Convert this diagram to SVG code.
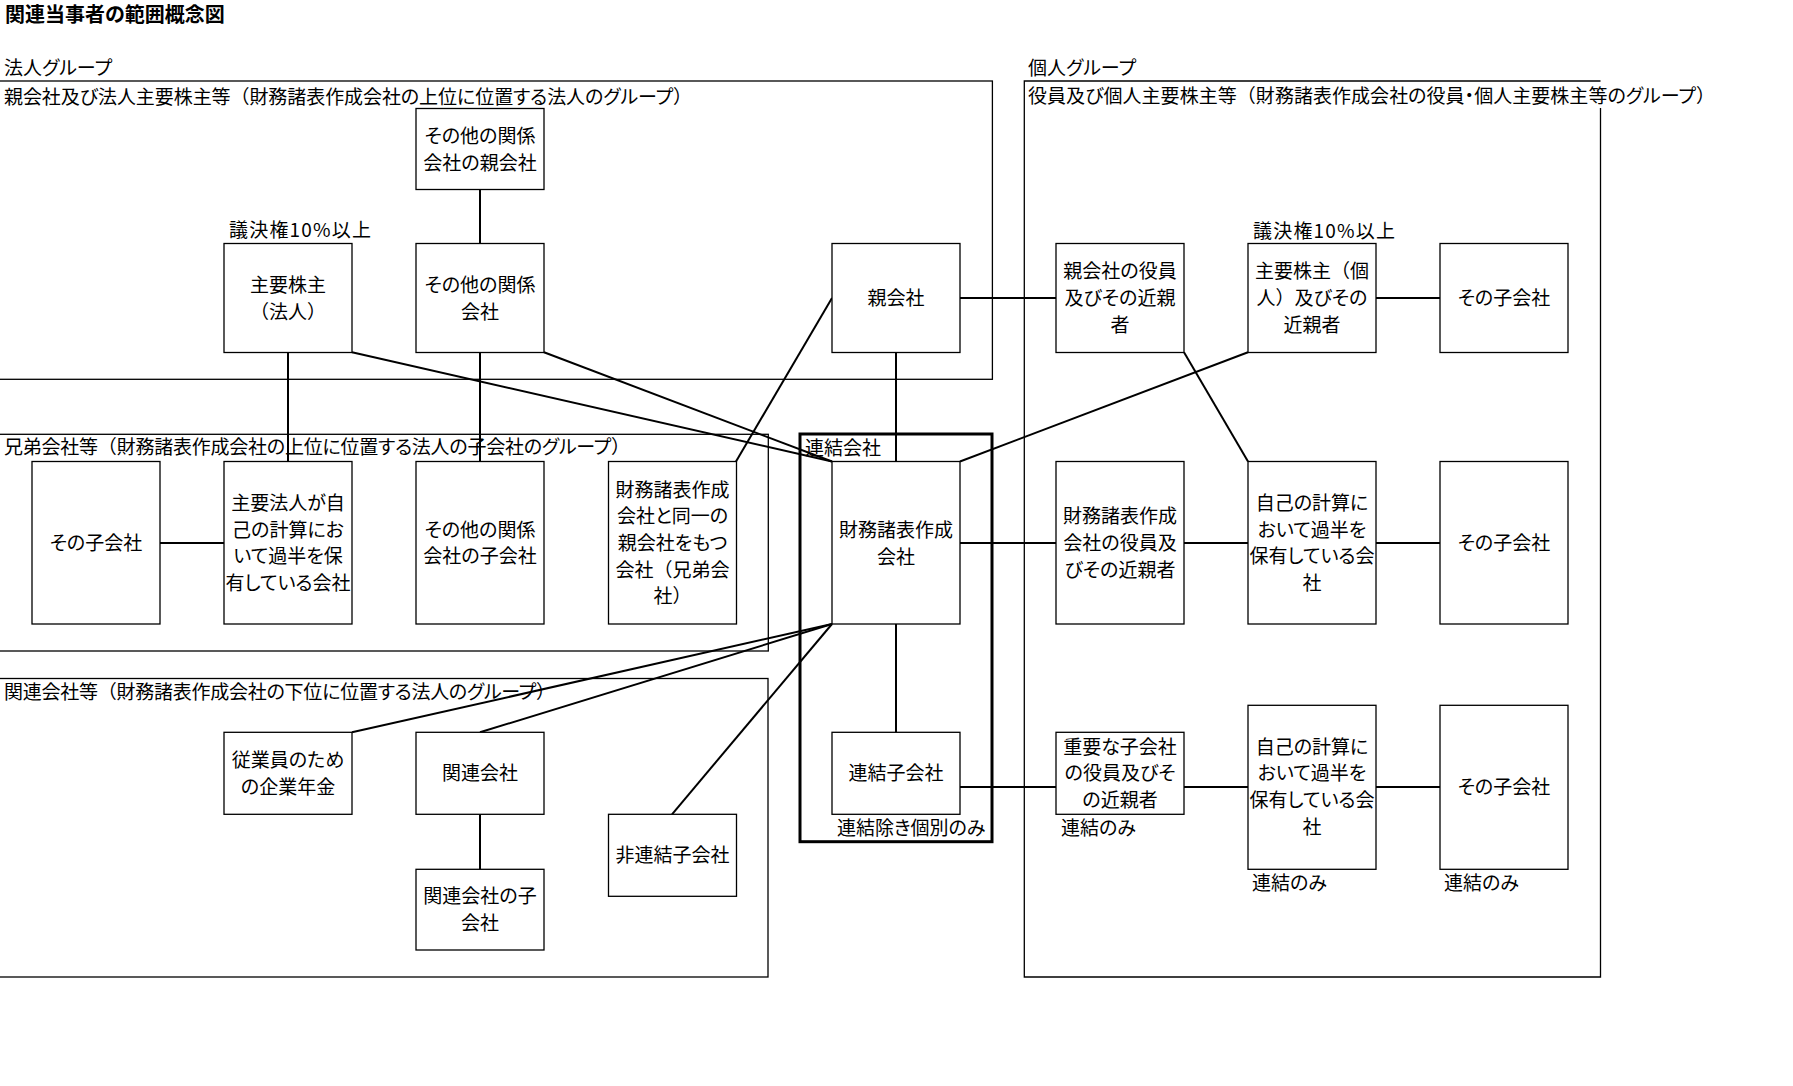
<svg xmlns="http://www.w3.org/2000/svg" width="1793" height="1086" viewBox="0 0 1793 1086">
<style>
text{font-family:"Noto Sans CJK JP","Noto Sans",sans-serif;font-size:19px;fill:#000;font-feature-settings:"palt"}
.fw{font-feature-settings:normal}
.title{font-weight:bold;font-size:20px}
.c{text-anchor:middle}
.box{fill:#fff;stroke:#000;stroke-width:1.3}
.grp{fill:none;stroke:#000;stroke-width:1.3}
.thick{fill:none;stroke:#000;stroke-width:3}
.conn line{stroke:#000;stroke-width:2}
</style>
<rect width="1793" height="1086" fill="#fff"/>
<text class="title" x="5" y="22">関連当事者の範囲概念図</text>
<g id="groups">
<text x="4" y="75">法人グループ</text>
<rect class="grp" x="-2" y="81" width="994.4" height="298.3"/>
<text x="4" y="103.5" textLength="688" lengthAdjust="spacing">親会社及び法人主要株主等<tspan class="fw">（</tspan>財務諸表作成会社の上位に位置する法人のグループ<tspan class="fw">）</tspan></text>
<rect class="grp" x="-2" y="434.3" width="770.3" height="216.7"/>
<text x="4" y="454" textLength="626" lengthAdjust="spacing">兄弟会社等<tspan class="fw">（</tspan>財務諸表作成会社の上位に位置する法人の子会社のグループ<tspan class="fw">）</tspan></text>
<rect class="grp" x="-2" y="678.5" width="770" height="298.5"/>
<text x="4" y="699" textLength="551" lengthAdjust="spacing">関連会社等<tspan class="fw">（</tspan>財務諸表作成会社の下位に位置する法人のグループ<tspan class="fw">）</tspan></text>
<text x="1028" y="75">個人グループ</text>
<path class="grp" d="M1600.5,81 H1024.3 V977 H1600.5 V108"/>
<text x="1028" y="103" textLength="687" lengthAdjust="spacing">役員及び個人主要株主等<tspan class="fw">（</tspan>財務諸表作成会社の役員・個人主要株主等のグループ<tspan class="fw">）</tspan></text>
<rect class="thick" x="800" y="434" width="192" height="407.7"/>
<text x="805" y="455">連結会社</text>
<text x="837" y="835">連結除き個別のみ</text>
<text x="229" y="237" textLength="142" lengthAdjust="spacing">議決権10%以上</text>
<text x="1253" y="238" textLength="142" lengthAdjust="spacing">議決権10%以上</text>
<text x="1061" y="835">連結のみ</text>
<text x="1252" y="890">連結のみ</text>
<text x="1444" y="890">連結のみ</text>
</g>
<g id="connectors" class="conn">
<line x1="480" y1="189.3" x2="480" y2="243.5"/>
<line x1="288" y1="352.3" x2="288" y2="461.5"/>
<line x1="480" y1="352.3" x2="480" y2="461.5"/>
<line x1="352" y1="352.3" x2="832" y2="461.5"/>
<line x1="544" y1="352.3" x2="832" y2="461.5"/>
<line x1="832" y1="298" x2="736" y2="461.5"/>
<line x1="896" y1="352.3" x2="896" y2="461.5"/>
<line x1="960" y1="298" x2="1056" y2="298"/>
<line x1="1248" y1="352.3" x2="960" y2="461.5"/>
<line x1="1184" y1="352.3" x2="1248" y2="461.5"/>
<line x1="1376" y1="298" x2="1440" y2="298"/>
<line x1="160" y1="543" x2="224" y2="543"/>
<line x1="960" y1="543" x2="1056" y2="543"/>
<line x1="1184" y1="543" x2="1248" y2="543"/>
<line x1="1376" y1="543" x2="1440" y2="543"/>
<line x1="896" y1="624" x2="896" y2="732.3"/>
<line x1="832" y1="624" x2="352" y2="732.3"/>
<line x1="832" y1="624" x2="480" y2="732.3"/>
<line x1="832" y1="624" x2="672" y2="814.3"/>
<line x1="960" y1="787" x2="1056" y2="787"/>
<line x1="1184" y1="787" x2="1248" y2="787"/>
<line x1="1376" y1="787" x2="1440" y2="787"/>
<line x1="480" y1="814.3" x2="480" y2="869.3"/>
</g>
<g id="n-oya-kankei-oya"><rect class="box" x="416" y="108.5" width="128" height="81"/><text class="c" x="480" y="143">その他の関係</text><text class="c" x="480" y="169.6">会社の親会社</text></g>
<g id="n-shuyo-hojin"><rect class="box" x="224" y="243.5" width="128" height="109"/><text class="c" x="288" y="292">主要株主</text><text class="c" x="288" y="318.7"><tspan class="fw">（</tspan>法人<tspan class="fw">）</tspan></text></g>
<g id="n-sonota-kankei"><rect class="box" x="416" y="243.5" width="128" height="109"/><text class="c" x="480" y="292">その他の関係</text><text class="c" x="480" y="318.7">会社</text></g>
<g id="n-oyagaisha"><rect class="box" x="832" y="243.5" width="128" height="109"/><text class="c" x="896" y="305">親会社</text></g>
<g id="n-oya-yakuin"><rect class="box" x="1056" y="243.5" width="128" height="109"/><text class="c" x="1120" y="278.3">親会社の役員</text><text class="c" x="1120" y="305">及びその近親</text><text class="c" x="1120" y="331.7">者</text></g>
<g id="n-shuyo-kojin"><rect class="box" x="1248" y="243.5" width="128" height="109"/><text class="c" x="1312" y="278.3">主要株主<tspan class="fw">（</tspan>個</text><text class="c" x="1312" y="305">人<tspan class="fw">）</tspan>及びその</text><text class="c" x="1312" y="331.7">近親者</text></g>
<g id="n-kojin-ko1"><rect class="box" x="1440" y="243.5" width="128" height="109"/><text class="c" x="1504" y="305">その子会社</text></g>
<g id="n-kyodai-ko"><rect class="box" x="32" y="461.5" width="128" height="162.5"/><text class="c" x="96" y="550">その子会社</text></g>
<g id="n-shuyo-hojin-ko"><rect class="box" x="224" y="461.5" width="128" height="162.5"/><text class="c" x="288" y="510">主要法人が自</text><text class="c" x="288" y="536.7">己の計算にお</text><text class="c" x="288" y="563.3">いて過半を保</text><text class="c" x="288" y="590">有している会社</text></g>
<g id="n-sonota-kankei-ko"><rect class="box" x="416" y="461.5" width="128" height="162.5"/><text class="c" x="480" y="536.7">その他の関係</text><text class="c" x="480" y="563.3">会社の子会社</text></g>
<g id="n-kyodai"><rect class="box" x="608.5" y="461.5" width="128" height="162.5"/><text class="c" x="672.5" y="496.7">財務諸表作成</text><text class="c" x="672.5" y="523.3">会社と同一の</text><text class="c" x="672.5" y="550">親会社をもつ</text><text class="c" x="672.5" y="576.7">会社<tspan class="fw">（</tspan>兄弟会</text><text class="c" x="672.5" y="603.3">社<tspan class="fw">）</tspan></text></g>
<g id="n-zaimu"><rect class="box" x="832" y="461.5" width="128" height="162.5"/><text class="c" x="896" y="537">財務諸表作成</text><text class="c" x="896" y="563.7">会社</text></g>
<g id="n-zaimu-yakuin"><rect class="box" x="1056" y="461.5" width="128" height="162.5"/><text class="c" x="1120" y="523.3">財務諸表作成</text><text class="c" x="1120" y="550">会社の役員及</text><text class="c" x="1120" y="576.7">びその近親者</text></g>
<g id="n-jiko1"><rect class="box" x="1248" y="461.5" width="128" height="162.5"/><text class="c" x="1312" y="510">自己の計算に</text><text class="c" x="1312" y="536.7">おいて過半を</text><text class="c" x="1312" y="563.3">保有している会</text><text class="c" x="1312" y="590">社</text></g>
<g id="n-kojin-ko2"><rect class="box" x="1440" y="461.5" width="128" height="162.5"/><text class="c" x="1504" y="550">その子会社</text></g>
<g id="n-nenkin"><rect class="box" x="224" y="732.3" width="128" height="82"/><text class="c" x="288" y="767">従業員のため</text><text class="c" x="288" y="793.7">の企業年金</text></g>
<g id="n-kanren"><rect class="box" x="416" y="732.3" width="128" height="82"/><text class="c" x="480" y="780.3">関連会社</text></g>
<g id="n-kanren-ko"><rect class="box" x="416" y="869.3" width="128" height="80.7"/><text class="c" x="480" y="902.5">関連会社の子</text><text class="c" x="480" y="929.7">会社</text></g>
<g id="n-hirenketsu"><rect class="box" x="608.5" y="814.3" width="128" height="82"/><text class="c" x="672.5" y="862.3">非連結子会社</text></g>
<g id="n-renketsu-ko"><rect class="box" x="832" y="732.3" width="128" height="82"/><text class="c" x="896" y="780.3">連結子会社</text></g>
<g id="n-juyo-yakuin"><rect class="box" x="1056" y="732.3" width="128" height="82"/><text class="c" x="1120" y="753.7">重要な子会社</text><text class="c" x="1120" y="780.3">の役員及びそ</text><text class="c" x="1120" y="807">の近親者</text></g>
<g id="n-jiko2"><rect class="box" x="1248" y="705.3" width="128" height="164"/><text class="c" x="1312" y="753.7">自己の計算に</text><text class="c" x="1312" y="780.3">おいて過半を</text><text class="c" x="1312" y="807">保有している会</text><text class="c" x="1312" y="833.7">社</text></g>
<g id="n-kojin-ko3"><rect class="box" x="1440" y="705.3" width="128" height="164"/><text class="c" x="1504" y="794.3">その子会社</text></g>
</svg>
